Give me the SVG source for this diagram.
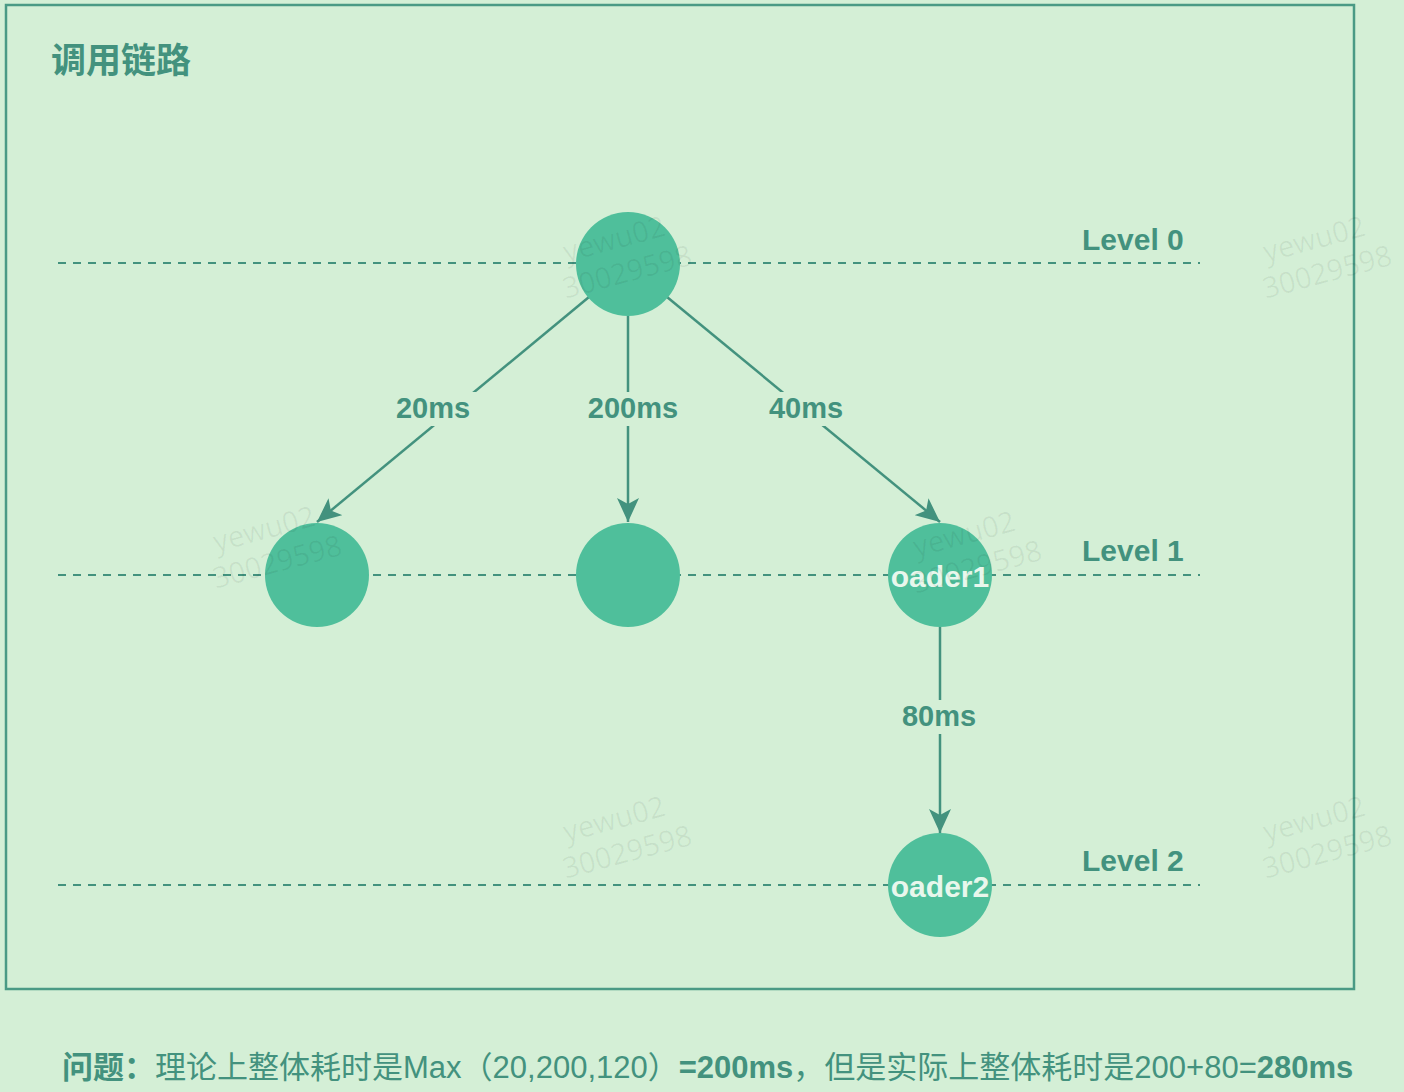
<svg xmlns="http://www.w3.org/2000/svg" width="1404" height="1092" viewBox="0 0 1404 1092">
<defs>
<style>
.bg{fill:#d4efd6}
.frame{fill:none;stroke:#4a9a85;stroke-width:2.5}
.dash{fill:none;stroke:#43927e;stroke-width:2;stroke-dasharray:8 7}
.edge{fill:none;stroke:#43927e;stroke-width:2.5}
.node{fill:#4fbf9b}
.lbl{font-family:"Liberation Sans",Arial,sans-serif;font-weight:bold;font-size:29px;fill:#43927e;text-anchor:middle}
.lvl{font-family:"Liberation Sans",Arial,sans-serif;font-weight:bold;font-size:30px;fill:#43927e}
.ntext{font-family:"Liberation Sans",Arial,sans-serif;font-weight:bold;font-size:30px;fill:#e8f7ec;text-anchor:middle}
.title{font-family:"Noto Sans CJK SC","Liberation Sans",sans-serif;font-weight:bold;font-size:35px;fill:#43927e}
.note{font-family:"Liberation Sans","Noto Sans CJK SC",sans-serif;font-size:31px;fill:#43927e}
.b{font-weight:bold}
.wm{font-family:"Open Sans","Liberation Sans",sans-serif;font-size:29px;fill:#000;fill-opacity:0.06}
.lbg{fill:#d4efd6}
</style>
<marker id="arr" viewBox="0 0 24 22" refX="24" refY="11" markerWidth="24" markerHeight="22" orient="auto" markerUnits="userSpaceOnUse">
<path d="M0,0 L24,11 L0,22 L6,11 z" fill="#43927e"/>
</marker>
</defs>
<rect class="bg" x="0" y="0" width="1404" height="1092"/>
<rect class="frame" x="6" y="5" width="1348" height="984"/>
<text class="title" x="51" y="73">调用链路</text>

<g id="levels">
<line class="dash" x1="58" y1="263" x2="1200" y2="263"/>
<line class="dash" x1="58" y1="575" x2="1200" y2="575"/>
<line class="dash" x1="58" y1="885" x2="1200" y2="885"/>
<text class="lvl" x="1082" y="250">Level 0</text>
<text class="lvl" x="1082" y="561">Level 1</text>
<text class="lvl" x="1082" y="871">Level 2</text>
</g>

<g id="connectors">
<line class="edge" x1="589" y1="297" x2="317" y2="522" marker-end="url(#arr)"/>
<line class="edge" x1="628" y1="316" x2="628" y2="522" marker-end="url(#arr)"/>
<line class="edge" x1="667" y1="297" x2="940" y2="522" marker-end="url(#arr)"/>
<line class="edge" x1="940" y1="627" x2="940" y2="833" marker-end="url(#arr)"/>
<rect class="lbg" x="392" y="392" width="84" height="34"/>
<text class="lbl" x="433" y="418">20ms</text>
<rect class="lbg" x="583" y="392" width="100" height="34"/>
<text class="lbl" x="633" y="418">200ms</text>
<rect class="lbg" x="765" y="392" width="84" height="34"/>
<text class="lbl" x="806" y="418">40ms</text>
<rect class="lbg" x="897" y="700" width="84" height="34"/>
<text class="lbl" x="939" y="726">80ms</text>
</g>

<g id="n-root"><circle class="node" cx="628" cy="264" r="52"/></g>
<g id="n-a"><circle class="node" cx="317" cy="575" r="52"/></g>
<g id="n-b"><circle class="node" cx="628" cy="575" r="52"/></g>
<g id="n-loader1"><circle class="node" cx="940" cy="575" r="52"/><text class="ntext" x="940" y="587">oader1</text></g>
<g id="n-loader2"><circle class="node" cx="940" cy="885" r="52"/><text class="ntext" x="940" y="897">oader2</text></g>

<g id="watermarks">
<g transform="rotate(-15 620 250)"><text class="wm" x="565" y="248">yewu02</text><text class="wm" x="555" y="283">30029598</text></g>
<g transform="rotate(-15 270 540)"><text class="wm" x="215" y="538">yewu02</text><text class="wm" x="205" y="573">30029598</text></g>
<g transform="rotate(-15 970 545)"><text class="wm" x="915" y="543">yewu02</text><text class="wm" x="905" y="578">30029598</text></g>
<g transform="rotate(-15 620 830)"><text class="wm" x="565" y="828">yewu02</text><text class="wm" x="555" y="863">30029598</text></g>
<g transform="rotate(-15 1320 250)"><text class="wm" x="1265" y="248">yewu02</text><text class="wm" x="1255" y="283">30029598</text></g>
<g transform="rotate(-15 1320 830)"><text class="wm" x="1265" y="828">yewu02</text><text class="wm" x="1255" y="863">30029598</text></g>
</g>

<text class="note" x="62" y="1078"><tspan class="b">问题：</tspan>理论上整体耗时是Max（20,200,120）<tspan class="b">=200ms</tspan>，但是实际上整体耗时是200+80=<tspan class="b">280ms</tspan></text>
</svg>
